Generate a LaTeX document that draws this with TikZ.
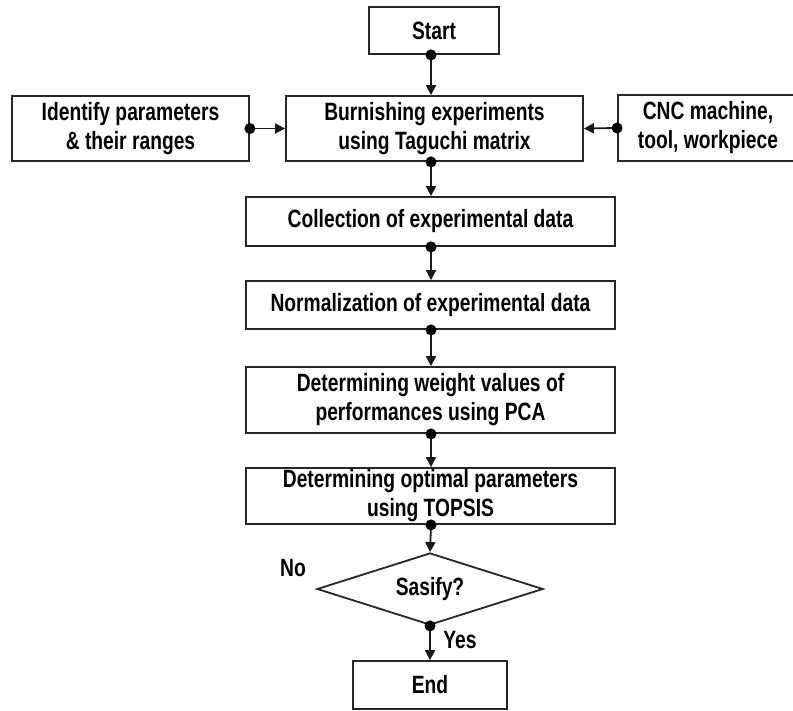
\documentclass[tikz,border=0pt]{standalone}
\usepackage{fontspec}
\newfontfamily\lbl[FakeStretch=0.77]{Liberation Sans}
\usetikzlibrary{arrows.meta,shapes.geometric}
\begin{document}
\begin{tikzpicture}[x=1pt,y=-1pt,
  box/.style={draw=black!85, line width=1.8pt, inner sep=0pt, align=center,
    font=\lbl\bfseries\fontsize{25}{29}\selectfont},
  lab/.style={inner sep=0pt, font=\lbl\bfseries\fontsize{25}{29}\selectfont},
  conn/.style={draw=black!90, line width=1.8pt, -{Triangle[length=10pt,width=10pt]}},
  dotc/.style={fill=black}]
\useasboundingbox (0,0) rectangle (793,711);
\fill[white] (0,0) rectangle (793,711);
\coordinate (axis) at (431,0);
\node[box, minimum width=130, minimum height=47] (start) at (434,30.5) {Start};
\node[box, minimum width=237, minimum height=65] (ident) at (130.5,128.5) {Identify parameters\\\& their ranges};
\node[box, minimum width=297, minimum height=65] (burn) at (434.5,128.5) {Burnishing experiments\\using Taguchi matrix};
\node[box, minimum width=180, minimum height=66] (cnc) at (708,128) {CNC machine,\\tool, workpiece};
\node[box, minimum width=369, minimum height=49] (coll) at (430.5,221.5) {Collection of experimental data};
\node[box, minimum width=369, minimum height=48] (norm) at (430.5,305) {Normalization of experimental data};
\node[box, minimum width=369, minimum height=66] (weight) at (430.5,400) {Determining weight values of\\performances using PCA};
\node[box, minimum width=369, minimum height=56] (opt) at (430.5,496) {Determining optimal parameters\\using TOPSIS};
\node[box, shape=diamond, aspect=3.14, minimum width=226, minimum height=72] (sat) at (430,589) {Sasify?};
\node[box, minimum width=154, minimum height=48] (endn) at (430,685) {End};
\node[lab] (no) at (293,568) {No};
\node[lab] (yes) at (460,640) {Yes};
% connectors
\draw[conn] (start.south -| axis) -- (burn.north -| axis);
\draw[conn] (burn.south -| axis) -- (coll.north -| axis);
\draw[conn] (coll.south -| axis) -- (norm.north -| axis);
\draw[conn] (norm.south -| axis) -- (weight.north -| axis);
\draw[conn] (weight.south -| axis) -- (opt.north -| axis);
\draw[conn] (opt.south -| axis) -- (sat.north);
\draw[conn] (sat.south) -- (endn.north);
\draw[conn] (ident.east) -- (burn.west);
\draw[conn] (cnc.west) -- (burn.east);
% dots
\foreach \p in {start.south -| axis, burn.south -| axis, coll.south -| axis, norm.south -| axis, weight.south -| axis, opt.south -| axis, sat.south, ident.east, cnc.west}
  \fill[dotc] (\p) circle (5.5pt);
\end{tikzpicture}
\end{document}
